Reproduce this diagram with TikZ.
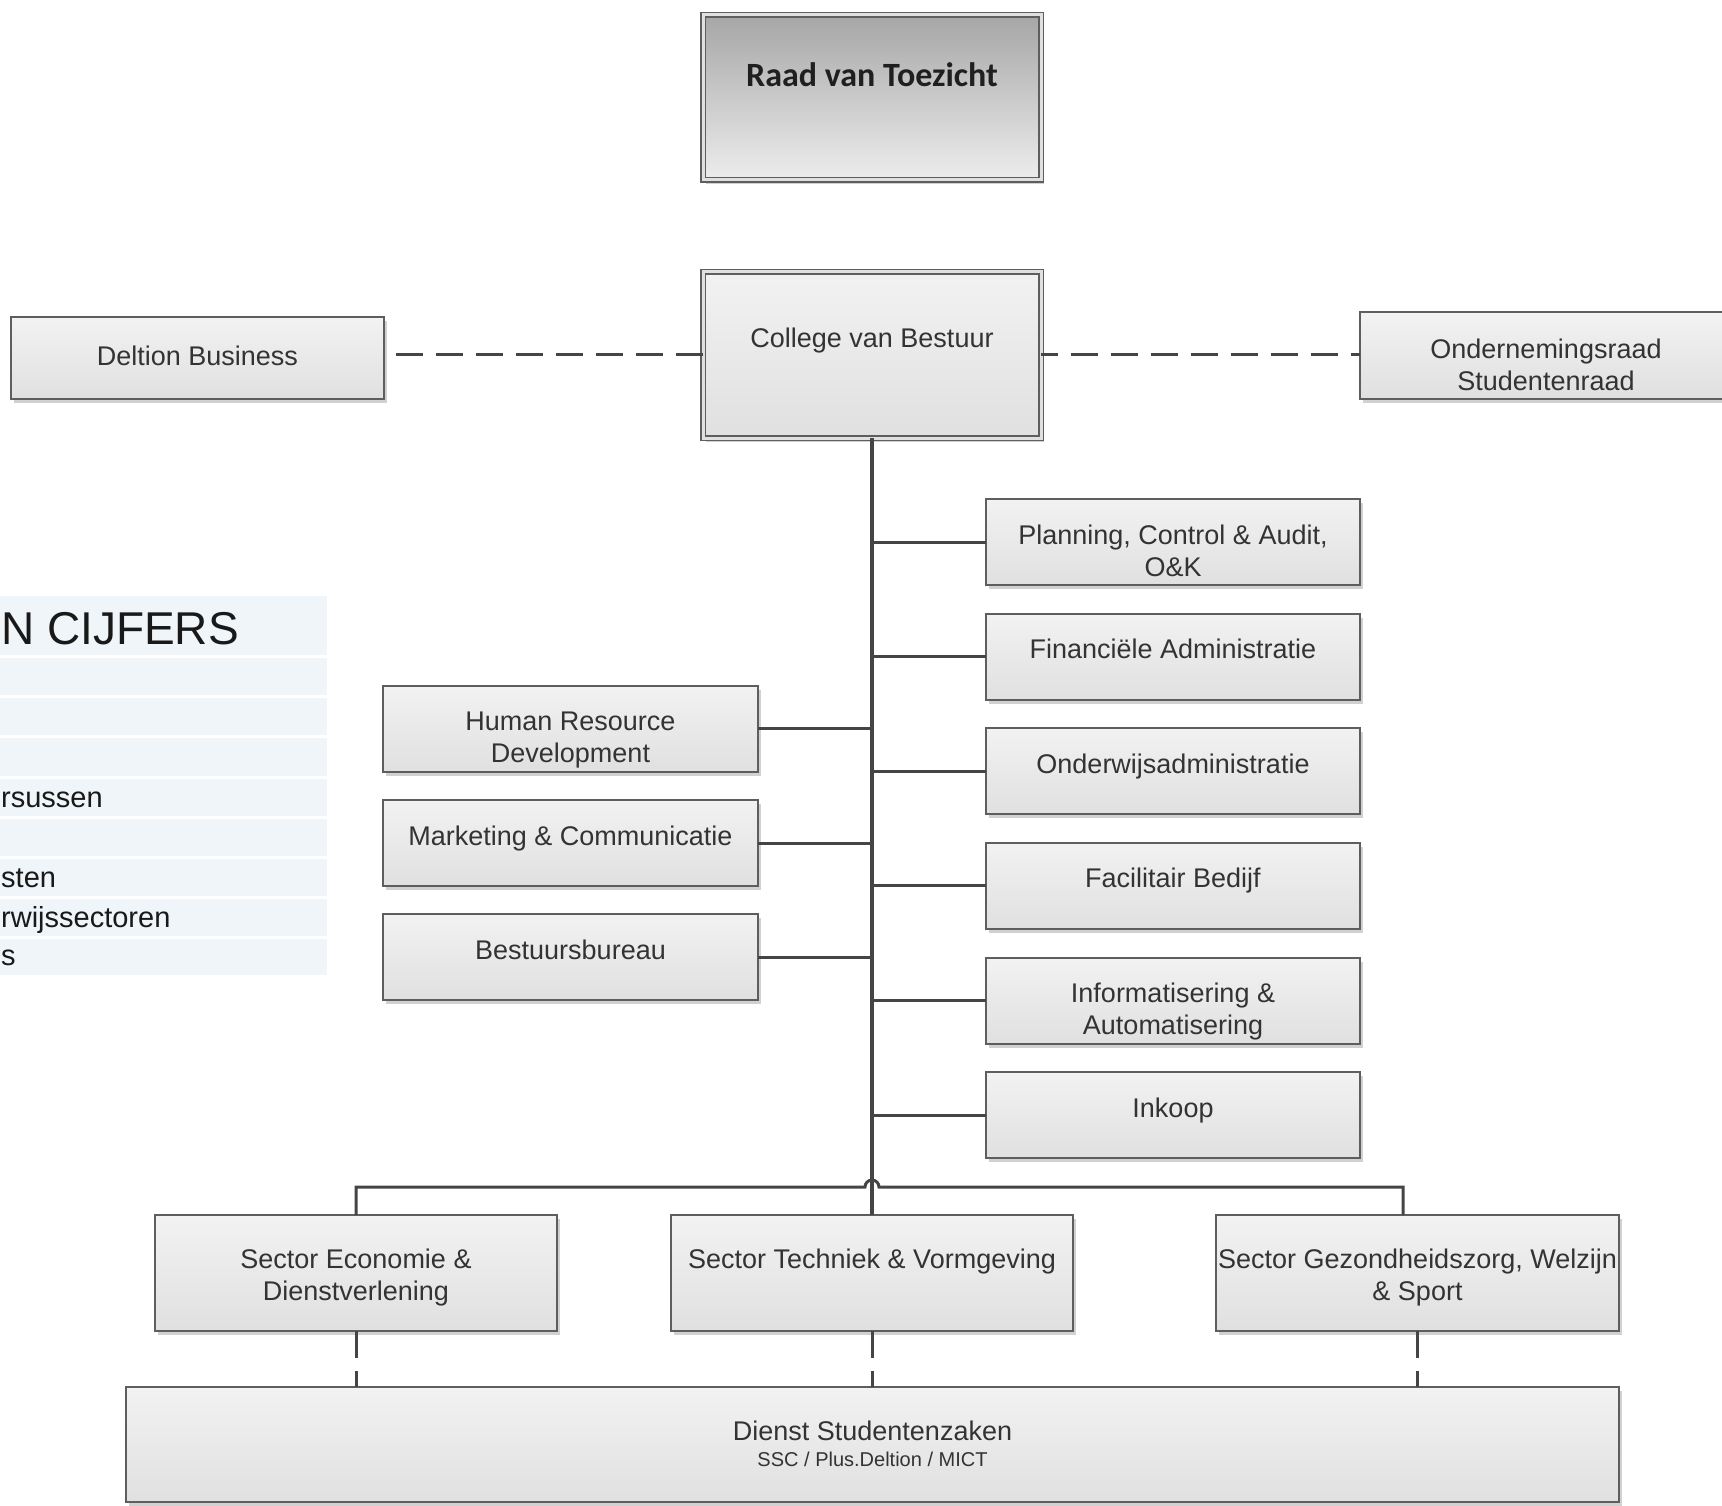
\documentclass[tikz,border=0pt]{standalone}
\usepackage{fontspec}
\setmainfont{Liberation Sans}
\newfontfamily\calibri{Carlito}
\usetikzlibrary{shadows}
\definecolor{boxline}{HTML}{5E5E5E}
\definecolor{boxtop}{HTML}{F2F2F2}
\definecolor{boxbot}{HTML}{E0E0E0}
\definecolor{raadtop}{HTML}{A6A6A6}
\definecolor{raadbot}{HTML}{EDEDED}
\definecolor{connc}{HTML}{454545}
\definecolor{txtc}{HTML}{333333}
\definecolor{tblbg}{HTML}{EFF5F9}
\newcommand\mystrut{\rule{0pt}{25pt}}
\begin{document}
\begin{tikzpicture}[x=1pt,y=-1pt,
 box/.style={draw=boxline, line width=2pt, top color=boxtop, bottom color=boxbot,
   outer sep=0pt, inner sep=0pt,
   drop shadow={shadow xshift=3pt,shadow yshift=-4pt,fill=black,opacity=0.18}},
 dbox/.style={box, line width=1.5pt, double=white!88!black, double distance=3pt},
 lbl/.style={font=\fontsize{27}{32}\selectfont, text=txtc, align=center, inner sep=0pt, anchor=north},
 tbltxt/.style={font=\fontsize{29}{34}\selectfont, text=black!90, inner sep=0pt, anchor=base west},
 solidlink/.style={draw=connc, line width=3pt},
 trunklink/.style={draw=connc, line width=4pt},
 dashlink/.style={draw=connc, line width=3pt, dash pattern=on 27pt off 13pt},
]
\useasboundingbox (0,0) rectangle (1722,1506);

% ---- table in the background (left, cut off)
\fill[tblbg] (0,596) rectangle (327,975);
\foreach \yy in {656,696,736,777,817,857,897,937}
  \draw[white, line width=3pt] (0,\yy) -- (327,\yy);
\node[font=\fontsize{46}{52}\selectfont, text=black!90, inner sep=0pt, anchor=base west] (tbl-h) at (1,644) {N CIJFERS};
\node[tbltxt] (tbl-a) at (1,807) {rsussen};
\node[tbltxt] (tbl-b) at (1,887) {sten};
\node[tbltxt] (tbl-c) at (1,927) {rwijssectoren};
\node[tbltxt] (tbl-d) at (1,965) {s};

% ---- boxes
\node[dbox, top color=raadtop, bottom color=raadbot, minimum width=338pt, minimum height=165pt] (raad) at (872,97.5) {};
\node[font=\calibri\bfseries\fontsize{34}{40}\selectfont, text=black!88, inner sep=0pt, anchor=base] (raad-t) at (872,87) {Raad van Toezicht};

\node[dbox, minimum width=338pt, minimum height=166pt] (cvb) at (872,355) {};
\node[lbl] (cvb-t) at (872,322) {\mystrut College van Bestuur};

\node[box, minimum width=373pt, minimum height=82pt] (delt) at (197.5,358) {};
\node[lbl] (delt-t) at (197.5,340) {\mystrut Deltion Business};

\node[box, minimum width=374pt, minimum height=86pt] (ondr) at (1547,355.5) {};
\node[lbl] (ondr-t) at (1546,333.5) {\mystrut Ondernemingsraad\\Studentenraad};

% right column
\node[box, minimum width=374pt, minimum height=86pt] (plan) at (1173,542) {};
\node[lbl] (plan-t) at (1173,519) {\mystrut Planning, Control \& Audit,\\O\&K};
\node[box, minimum width=374pt, minimum height=86pt] (fin) at (1173,656.5) {};
\node[lbl] (fin-t) at (1173,633.5) {\mystrut Financiële Administratie};
\node[box, minimum width=374pt, minimum height=86pt] (oadm) at (1173,771) {};
\node[lbl] (oadm-t) at (1173,748) {\mystrut Onderwijsadministratie};
\node[box, minimum width=374pt, minimum height=86pt] (fac) at (1173,885.5) {};
\node[lbl] (fac-t) at (1173,862.5) {\mystrut Facilitair Bedijf};
\node[box, minimum width=374pt, minimum height=86pt] (infa) at (1173,1000.5) {};
\node[lbl] (infa-t) at (1173,977.5) {\mystrut Informatisering \&\\Automatisering};
\node[box, minimum width=374pt, minimum height=86pt] (ink) at (1173,1115) {};
\node[lbl] (ink-t) at (1173,1092) {\mystrut Inkoop};

% left column
\node[box, minimum width=375pt, minimum height=86pt] (hrd) at (570.5,728.5) {};
\node[lbl] (hrd-t) at (570.5,705.5) {\mystrut Human Resource\\Development};
\node[box, minimum width=375pt, minimum height=86pt] (mkt) at (570.5,843) {};
\node[lbl] (mkt-t) at (570.5,820) {\mystrut Marketing \& Communicatie};
\node[box, minimum width=375pt, minimum height=86pt] (bbur) at (570.5,957) {};
\node[lbl] (bbur-t) at (570.5,934) {\mystrut Bestuursbureau};

% sectors
\node[box, minimum width=402pt, minimum height=116pt] (eco) at (356,1273) {};
\node[lbl] (eco-t) at (356,1243) {\mystrut Sector Economie \&\\Dienstverlening};
\node[box, minimum width=402pt, minimum height=116pt] (tech) at (872,1273) {};
\node[lbl] (tech-t) at (872,1243) {\mystrut Sector Techniek \& Vormgeving};
\node[box, minimum width=403pt, minimum height=116pt] (gez) at (1417.5,1273) {};
\node[lbl] (gez-t) at (1417.5,1243) {\mystrut Sector Gezondheidszorg, Welzijn\\\& Sport};

\node[box, minimum width=1493pt, minimum height=115pt] (dsz) at (872.5,1444.5) {};
\node[lbl] (dsz-t) at (872.5,1415.5) {\mystrut Dienst Studentenzaken};
\node[font=\fontsize{20}{24}\selectfont, text=txtc, inner sep=0pt, anchor=base] (dsz-s) at (872.5,1466) {SSC / Plus.Deltion / MICT};

% ---- connectors
\draw[dashlink] (cvb.west) -- (cvb.west -| delt.east);
\draw[dashlink, dash phase=10pt] (cvb.east) -- (cvb.east -| ondr.west);

\draw[trunklink] (cvb.south) -- (tech.north);
\foreach \b in {plan,fin,oadm,fac,infa,ink}
  \draw[solidlink] (cvb.south |- \b.west) -- (\b.west);
\foreach \b in {hrd,mkt,bbur}
  \draw[solidlink] (\b.east) -- (cvb.south |- \b.east);

\coordinate (hop) at (872,1187);
\coordinate (gzin) at (1403,1215);
\draw[solidlink] (eco.north) |- ([xshift=-7pt]hop) arc[start angle=180,end angle=0,radius=7pt] -| (gzin);

\draw[dashlink] (eco.south) -- (eco.south |- dsz.north);
\draw[dashlink] (tech.south) -- (tech.south |- dsz.north);
\draw[dashlink] (gez.south) -- (gez.south |- dsz.north);
\end{tikzpicture}
\end{document}
